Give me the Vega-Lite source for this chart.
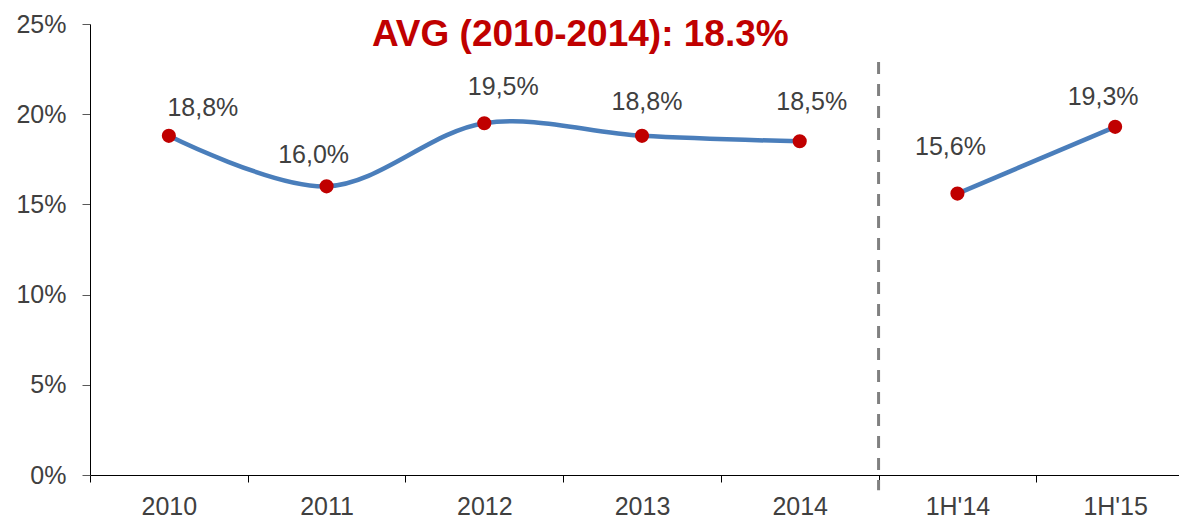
{
  "$schema": "https://vega.github.io/schema/vega-lite/v6.json",
  "width": 1089,
  "height": 451,
  "autosize": {"type": "none"},
  "padding": {"left": 90, "top": 24, "right": 0, "bottom": 43},
  "background": "white",
  "config": {
    "view": {"stroke": null},
    "font": "Liberation Sans",
    "axis": {"grid": false, "domainColor": "#000000", "tickColor": "#000000", "labelColor": "#404040", "labelFont": "Liberation Sans", "labelFontSize": 25, "title": null}
  },
  "datasets": {
    "series": [
      {"cat": "2010", "grp": "annual", "value": 0.188, "label": "18,8%"},
      {"cat": "2011", "grp": "annual", "value": 0.160, "label": "16,0%"},
      {"cat": "2012", "grp": "annual", "value": 0.195, "label": "19,5%"},
      {"cat": "2013", "grp": "annual", "value": 0.188, "label": "18,8%"},
      {"cat": "2014", "grp": "annual", "value": 0.185, "label": "18,5%"},
      {"cat": "1H'14", "grp": "half", "value": 0.156, "label": "15,6%"},
      {"cat": "1H'15", "grp": "half", "value": 0.193, "label": "19,3%"}
    ],
    "notes": [
      {"note": "AVG (2010-2014): 18.3%", "cat": "2012"}
    ]
  },
  "layer": [
    {
      "data": {"name": "series"},
      "encoding": {
        "x": {
          "field": "cat", "type": "nominal", "bandPosition": 0.5,
          "scale": {"type": "band", "domain": ["2010", "2011", "2012", "2013", "2014", "1H'14", "1H'15"], "paddingInner": 0, "paddingOuter": 0, "range": [0, 1104]},
          "axis": {"tickBand": "extent", "tickSize": 7, "labelPadding": 12, "labelAngle": 0}
        },
        "y": {
          "field": "value", "type": "quantitative",
          "scale": {"domain": [0, 0.25], "nice": false, "zero": true},
          "axis": {"values": [0, 0.05, 0.1, 0.15, 0.2, 0.25], "format": ".0%", "tickSize": 8, "labelPadding": 16, "tickColor": "#595959"}
        }
      },
      "layer": [
        {
          "mark": {"type": "line", "color": "#4A7EBB", "strokeWidth": 4.5, "interpolate": "catmull-rom"},
          "encoding": {"detail": {"field": "grp"}}
        },
        {
          "mark": {"type": "point", "filled": true, "color": "#C00000", "size": 200, "opacity": 1}
        },
        {"transform": [{"filter": "datum.cat == '2010'"}], "mark": {"type": "text", "fontSize": 25, "color": "#404040", "baseline": "middle", "dx": 34, "dy": -28}, "encoding": {"text": {"field": "label"}}},
        {"transform": [{"filter": "datum.cat == '2011'"}], "mark": {"type": "text", "fontSize": 25, "color": "#404040", "baseline": "middle", "dx": -13, "dy": -31}, "encoding": {"text": {"field": "label"}}},
        {"transform": [{"filter": "datum.cat == '2012'"}], "mark": {"type": "text", "fontSize": 25, "color": "#404040", "baseline": "middle", "dx": 19, "dy": -36}, "encoding": {"text": {"field": "label"}}},
        {"transform": [{"filter": "datum.cat == '2013'"}], "mark": {"type": "text", "fontSize": 25, "color": "#404040", "baseline": "middle", "dx": 5, "dy": -34}, "encoding": {"text": {"field": "label"}}},
        {"transform": [{"filter": "datum.cat == '2014'"}], "mark": {"type": "text", "fontSize": 25, "color": "#404040", "baseline": "middle", "dx": 12, "dy": -39}, "encoding": {"text": {"field": "label"}}},
        {"transform": [{"filter": "datum.cat == \"1H'14\""}], "mark": {"type": "text", "fontSize": 25, "color": "#404040", "baseline": "middle", "dx": -7, "dy": -47}, "encoding": {"text": {"field": "label"}}},
        {"transform": [{"filter": "datum.cat == \"1H'15\""}], "mark": {"type": "text", "fontSize": 25, "color": "#404040", "baseline": "middle", "dx": -12, "dy": -30}, "encoding": {"text": {"field": "label"}}}
      ]
    },
    {
      "data": {"name": "notes"},
      "mark": {"type": "rule", "color": "#808080", "strokeWidth": 3, "strokeDash": [12, 10]},
      "encoding": {
        "x": {"datum": "1H'14", "type": "nominal", "bandPosition": 0},
        "y": {"datum": 0.229, "type": "quantitative"},
        "y2": {"datum": -0.0085}
      }
    },
    {
      "data": {"name": "notes"},
      "mark": {"type": "text", "fontSize": 37, "fontWeight": "bold", "color": "#C00000", "align": "center", "baseline": "alphabetic", "dx": 96},
      "encoding": {
        "x": {"field": "cat", "type": "nominal", "bandPosition": 0.5},
        "y": {"datum": 0.2378, "type": "quantitative"},
        "text": {"field": "note", "type": "nominal"}
      }
    }
  ]
}
